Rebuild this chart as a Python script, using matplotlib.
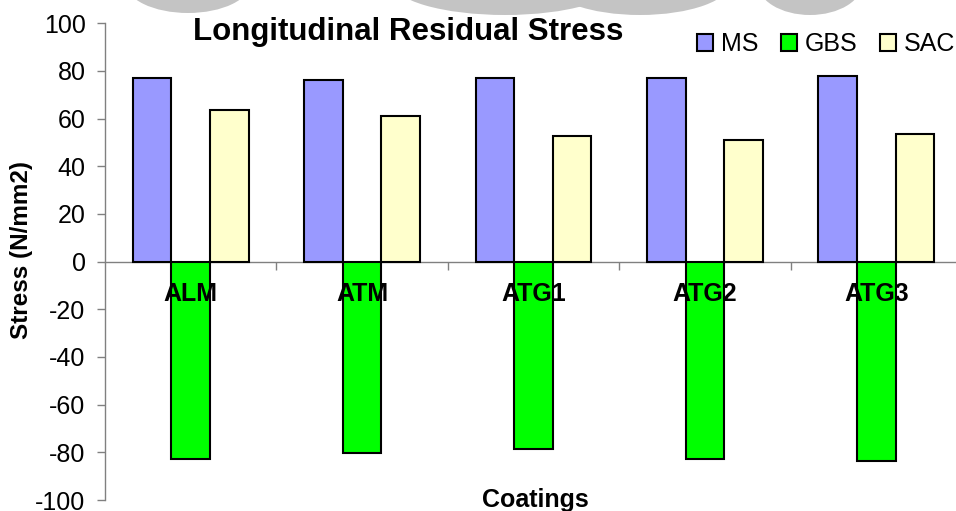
import matplotlib
matplotlib.use("Agg")
import matplotlib.pyplot as plt
from matplotlib.patches import Ellipse
import numpy as np

plt.rcParams['font.family'] = ['Liberation Sans', 'DejaVu Sans']
plt.rcParams['axes.unicode_minus'] = False

# residual stress per coating, N/mm2
coatings = ['ALM', 'ATM', 'ATG1', 'ATG2', 'ATG3']
ms = [76.9, 76.1, 76.9, 76.9, 77.8]
gbs = [-82.8, -80.1, -78.6, -82.8, -83.6]
sac = [63.6, 61.0, 52.7, 51.0, 53.4]
series = ['MS', 'GBS', 'SAC']
colours = ['#9999FF', '#00FF00', '#FFFFCC']

W, H = 956, 511
fig = plt.figure(figsize=(W / 100, H / 100), dpi=100)

# faint grey blobs along the top edge
for cx, cy, w, h in [(188, -18, 126, 62), (505, -18, 226, 66),
                     (640, -18, 182, 66), (810, -18, 106, 66)]:
    fig.patches.append(Ellipse((cx / W, 1 - cy / H), w / W, h / H,
                               transform=fig.transFigure,
                               facecolor='#c4c4c4', edgecolor='none', zorder=0))

# axes run a little past the right edge of the figure
ax = fig.add_axes([105 / W, 1 - 500 / H, 857 / W, (500 - 23.3) / H])
ax.patch.set_visible(False)

x = np.arange(len(coatings))
bw = 0.225
for i, (vals, name, col) in enumerate(zip([ms, gbs, sac], series, colours)):
    ax.bar(x + (i - 1) * bw, vals, bw, color=col, edgecolor='black',
           linewidth=1.5, label=name, zorder=2)

# category names sit on top of the bars
ax.set_axisbelow(False)

ax.set_xlim(-0.5, len(coatings) - 0.5)
ax.set_ylim(-100, 100)
ax.set_yticks(np.arange(-100, 101, 20))

for s in ['top', 'right']:
    ax.spines[s].set_visible(False)
ax.spines['bottom'].set_position(('data', 0))
for s in ['left', 'bottom']:
    ax.spines[s].set_color('#808080')
    ax.spines[s].set_linewidth(1.0)
ax.spines['bottom'].set_zorder(1.5)

ax.tick_params(axis='y', direction='out', length=6, width=1, color='#808080',
               labelsize=18, pad=8)
ax.set_xticks(x)
ax.set_xticklabels(coatings, fontsize=18, fontweight='bold')
ax.tick_params(axis='x', which='major', length=0, pad=15)
ax.set_xticks(np.arange(0.5, len(coatings) - 0.5, 1), minor=True)
ax.tick_params(axis='x', which='minor', direction='out', length=6, width=1,
               color='#808080')

fig.text(408 / W, 1 - 40 / H, 'Longitudinal Residual Stress', fontsize=22.5,
         fontweight='bold', ha='center', va='baseline')
fig.text(22 / W, 261 / H, 'Stress (N/mm2)', fontsize=17.5, fontweight='bold',
         rotation=90, ha='center', va='center')
fig.text(535 / W, 1 - 507 / H, 'Coatings', fontsize=18, fontweight='bold',
         ha='center', va='baseline')

ax.legend(loc='center left', bbox_to_anchor=(697 / W, 1 - 44 / H),
          bbox_transform=fig.transFigure, ncol=3, frameon=False, fontsize=18,
          handlelength=0.65, handleheight=0.65, handletextpad=0.3,
          columnspacing=0.9, borderpad=0, borderaxespad=0)

fig.savefig('out.png', dpi=100)
